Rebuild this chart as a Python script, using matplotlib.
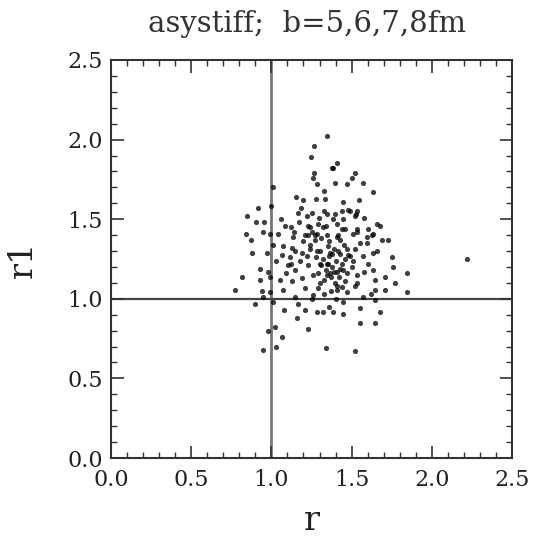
import matplotlib
matplotlib.use("Agg")
import matplotlib.pyplot as plt
from matplotlib.ticker import MultipleLocator

# ratio r vs r1 for the asystiff runs, impact parameters 5-8 fm
r_vals = [
    1.345, 1.268, 1.247, 1.411, 1.382, 1.268, 1.261, 1.521, 1.500, 1.286,
    1.398, 1.469, 1.569, 1.012, 1.635, 1.153, 1.199, 1.278, 1.334, 1.448,
    1.548, 1.185, 0.996, 0.915, 1.168, 1.251, 1.345, 1.397, 1.438, 1.480,
    1.532, 0.846, 0.904, 0.954, 1.060, 1.085, 1.122, 1.297, 1.292, 1.386,
    1.448, 1.521, 1.577, 1.241, 1.324, 1.438, 1.532, 1.604, 1.677, 0.842,
    0.950, 0.991, 1.043, 1.137, 1.230, 1.282, 1.345, 1.407, 1.532, 1.594,
    1.635, 1.729,
    1.012, 0.877, 1.064, 1.127, 1.116, 1.189, 1.241, 1.282, 1.365, 1.417,
    1.480, 1.511, 1.594, 1.635, 1.750, 0.929, 0.981, 1.105, 1.147, 1.230,
    1.303, 1.345, 1.365, 1.407, 1.448, 1.500, 1.532, 1.635, 1.760, 0.815,
    0.929, 0.991, 1.054, 1.127, 1.189, 1.303, 1.345, 1.397, 1.459, 1.532,
    1.646, 1.708, 1.771, 0.773, 0.991, 1.074, 1.209, 1.261, 1.407, 1.438,
    1.646, 1.708, 0.950, 0.898, 1.012, 1.168, 1.448, 1.646, 1.209, 1.282,
    1.324, 1.386, 1.448, 1.552, 1.677, 1.158, 1.552, 1.646, 1.022, 0.981,
    1.230, 1.064, 1.029, 0.946, 1.340, 1.521,
    1.843, 1.843, 2.220,
    1.490, 1.530, 1.230, 1.340, 1.210, 1.270, 1.417, 1.510, 1.625, 1.690,
    1.656, 1.380, 1.330,
    1.320, 1.360, 1.400, 1.440, 1.380, 1.340, 1.420, 1.300, 1.350, 1.390,
    1.450, 1.280, 1.330, 1.410, 1.370, 1.470, 1.260, 1.220,
    1.250, 1.270, 1.310, 1.360, 1.430, 1.470, 1.490, 1.430, 1.380, 1.310,
    1.290, 1.350, 1.390, 1.430, 1.460, 1.520, 1.550, 1.570, 1.240, 1.200,
    1.180, 1.150, 1.120, 1.090, 1.140, 1.170, 1.220, 1.330, 1.410, 1.460,
    1.370, 1.330, 1.470, 1.520, 1.290, 1.250, 1.400, 1.570, 1.620, 1.580,
    1.600, 1.660, 1.070, 1.030, 0.970, 0.870, 0.940, 1.080, 1.150, 1.360,
]
r1_vals = [
    2.02, 1.96, 1.89, 1.85, 1.82, 1.79, 1.76, 1.79, 1.76, 1.72,
    1.73, 1.72, 1.73, 1.70, 1.67, 1.64, 1.62, 1.63, 1.63, 1.61,
    1.62, 1.57, 1.58, 1.57, 1.54, 1.54, 1.53, 1.53, 1.55, 1.56,
    1.55, 1.52, 1.48, 1.48, 1.50, 1.46, 1.45, 1.51, 1.47, 1.50,
    1.50, 1.52, 1.51, 1.45, 1.45, 1.44, 1.44, 1.44, 1.46, 1.41,
    1.42, 1.41, 1.41, 1.39, 1.40, 1.41, 1.40, 1.39, 1.42, 1.39,
    1.41, 1.37,
    1.34, 1.29, 1.275, 1.32, 1.26, 1.29, 1.34, 1.30, 1.29, 1.30,
    1.275, 1.24, 1.35, 1.29, 1.26, 1.19, 1.17, 1.21, 1.18, 1.21,
    1.22, 1.22, 1.16, 1.17, 1.18, 1.20, 1.15, 1.18, 1.20, 1.135,
    1.12, 1.14, 1.12, 1.11, 1.13, 1.10, 1.15, 1.10, 1.11, 1.10,
    1.12, 1.135, 1.10, 1.055, 1.045, 1.055, 1.065, 1.025, 1.055, 1.075,
    1.055, 1.055, 1.013, 0.97, 0.98, 0.97, 0.98, 0.99, 0.93, 0.92,
    0.92, 0.92, 0.905, 0.94, 0.92, 0.88, 0.85, 0.85, 0.82, 0.80,
    0.81, 0.76, 0.70, 0.68, 0.69, 0.67,
    1.16, 1.04, 1.25,
    1.55, 1.53, 1.46, 1.46, 1.40, 1.40, 1.40, 1.41, 1.40, 1.37,
    1.47, 1.82, 1.68,
    1.25, 1.27, 1.24, 1.22, 1.20, 1.18, 1.14, 1.30, 1.33, 1.31,
    1.34, 1.26, 1.12, 1.08, 1.14, 1.16, 1.15, 1.27,
    1.42, 1.37, 1.38, 1.36, 1.37, 1.31, 1.27, 1.28, 1.28, 1.21,
    1.16, 1.22, 1.17, 1.19, 1.25, 1.31, 1.35, 1.27, 1.31, 1.36,
    1.24, 1.30, 1.22, 1.16, 1.42, 1.48, 1.52, 1.55, 1.47, 1.44,
    1.05, 1.03, 1.04, 1.08, 1.07, 1.00, 1.00, 1.01, 1.03, 1.17,
    1.22, 1.30, 1.33, 1.24, 1.29, 1.37, 1.05, 0.93, 1.01, 0.95,
]

plt.rcParams['font.family'] = 'DejaVu Serif'

fig = plt.figure(figsize=(5.34, 5.41), dpi=100)
ax = fig.add_axes([0.2079, 0.1534, 0.7509, 0.7357])

# reference lines at r = 1 and r1 = 1
ax.axvline(1.0, color='#777777', lw=2.0, zorder=1)
ax.axhline(1.0, color='#444444', lw=1.6, zorder=1)

ax.scatter(r_vals, r1_vals, marker='o', s=14, color='black', alpha=0.75,
           linewidths=0, zorder=2)

ax.set_xlim(0, 2.5)
ax.set_ylim(0, 2.5)
ax.xaxis.set_major_locator(MultipleLocator(0.5))
ax.yaxis.set_major_locator(MultipleLocator(0.5))
ax.xaxis.set_minor_locator(MultipleLocator(0.1))
ax.yaxis.set_minor_locator(MultipleLocator(0.1))
ax.xaxis.set_major_formatter(plt.FormatStrFormatter('%.1f'))
ax.yaxis.set_major_formatter(plt.FormatStrFormatter('%.1f'))
ax.tick_params(which='both', direction='in', top=True, right=True,
               color='#333333', labelsize=16, labelcolor='#222222')
ax.tick_params(axis='x', which='major', pad=8)
ax.tick_params(axis='y', which='major', pad=6)
ax.tick_params(which='major', length=9, width=1.2)
ax.tick_params(which='minor', length=4.5, width=1.0)
for sp in ax.spines.values():
    sp.set_linewidth(1.5)
    sp.set_color('#333333')

ax.set_xlabel('r', fontsize=24, labelpad=10, color='#222222')
ax.set_ylabel('r1', fontsize=24, labelpad=20, color='#222222')
ax.set_title('asystiff;  b=5,6,7,8fm', fontsize=21, pad=20, x=0.49,
             color='#333333')

fig.savefig('out.png', dpi=100)
